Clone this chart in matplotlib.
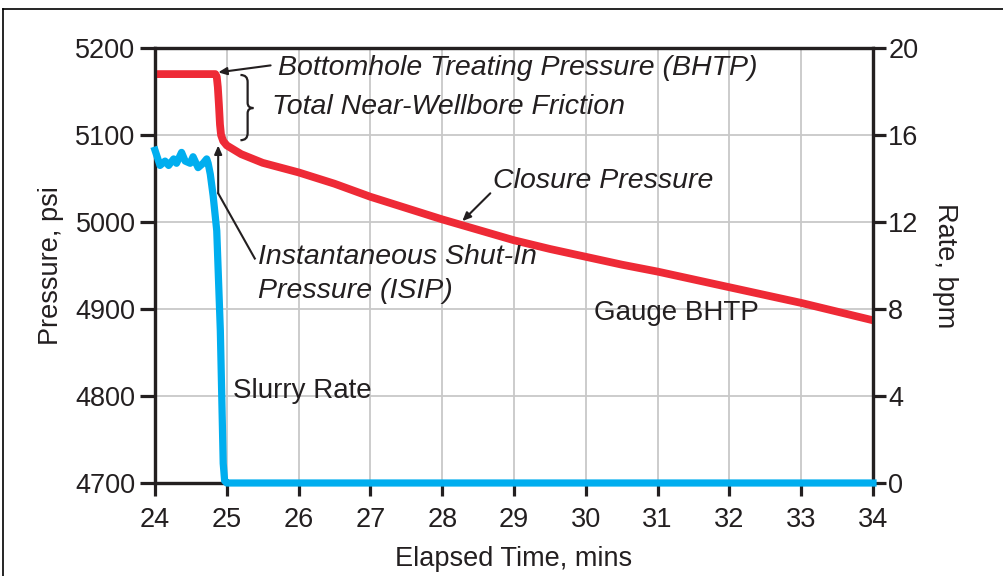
import matplotlib
matplotlib.use("Agg")
import matplotlib.pyplot as plt
from matplotlib.path import Path
from matplotlib.patches import PathPatch
from matplotlib.lines import Line2D

plt.rcParams['font.family'] = ['Liberation Sans', 'DejaVu Sans']

# ---- data ----
bhtp_time = [24.0, 24.84, 24.86, 24.875, 24.89, 24.905, 24.92, 24.95, 25.0, 25.2, 25.5,
             26.0, 26.5, 27.0, 27.5, 28.0, 28.5, 29.0, 29.5, 30.0, 30.5, 31.0, 31.5,
             32.0, 32.5, 33.0, 33.5, 34.0]
bhtp_psi = [5170, 5170, 5167, 5155, 5135, 5112, 5100, 5093, 5088, 5078, 5068,
            5057, 5044, 5029, 5016, 5003, 4991, 4979, 4969, 4960, 4951, 4943, 4934,
            4925, 4916, 4907, 4897, 4887]

rate_time = [24.0, 24.07, 24.14, 24.19, 24.26, 24.30, 24.37, 24.42, 24.49, 24.53,
             24.60, 24.67, 24.72, 24.74, 24.77, 24.81, 24.86, 24.91, 24.95, 24.97,
             25.0, 34.0]
rate_bpm = [15.3, 14.6, 14.8, 14.6, 14.9, 14.7, 15.2, 14.8, 14.7, 15.0,
            14.5, 14.7, 14.9, 14.7, 14.2, 13.2, 11.6, 7.0, 0.9, 0.1,
            0.0, 0.0]

x_ticks = [24, 25, 26, 27, 28, 29, 30, 31, 32, 33, 34]
p_ticks = [4700, 4800, 4900, 5000, 5100, 5200]
r_ticks = [0, 4, 8, 12, 16, 20]

TXT = '#231f20'
RED = '#ee2a36'
BLUE = '#00aeef'

fig = plt.figure(figsize=(10.04, 5.76), dpi=100)
ax = fig.add_axes([155/1004, 1-483/576, (873-155)/1004, (483-48)/576])
ax2 = ax.twinx()

ax.set_xlim(24, 34)
ax.set_ylim(4700, 5200)
ax2.set_ylim(0, 20)

ax.set_xticks(x_ticks)
ax.set_yticks(p_ticks)
ax2.set_yticks(r_ticks)

ax.grid(True, color='#c8c8c8', linewidth=1.3)
ax.set_axisbelow(True)

for a in (ax, ax2):
    for s in a.spines.values():
        s.set_linewidth(2.3)
        s.set_color(TXT)

ax.tick_params(axis='y', direction='out', length=11, width=2.3, pad=3,
               labelsize=19.5, colors=TXT)
ax.tick_params(axis='x', direction='out', length=9, width=2.3, pad=8,
               labelsize=19.5, colors=TXT)
ax2.tick_params(axis='y', direction='out', length=9, width=2.3, pad=2,
                labelsize=19.5, colors=TXT)

ax.plot(bhtp_time, bhtp_psi, color=RED, linewidth=5.6, solid_capstyle='butt',
        solid_joinstyle='round', zorder=3)
ax2.plot(rate_time, rate_bpm, color=BLUE, linewidth=5.2, clip_on=False,
         solid_joinstyle='round', zorder=3)

ax.set_ylabel('Pressure, psi', fontsize=19.5, color=TXT, labelpad=8)
ax2.set_ylabel('Rate, bpm', fontsize=19.5, color=TXT, rotation=270, labelpad=28)
ax.set_xlabel('Elapsed Time, mins', fontsize=19.5, color=TXT, labelpad=10)

# annotations
ann_kw = dict(fontsize=20.5, style='italic', color=TXT, va='center', ha='left', zorder=5)
ax.text(25.71, 5177, 'Bottomhole Treating Pressure (BHTP)', **ann_kw)
ax.text(25.63, 5132, 'Total Near-Wellbore Friction', **ann_kw)
ax.text(28.71, 5047, 'Closure Pressure', **ann_kw)
ax.text(25.43, 4960, 'Instantaneous Shut-In', **ann_kw)
ax.text(25.43, 4921, 'Pressure (ISIP)', **ann_kw)
ax.text(30.11, 4895, 'Gauge BHTP', fontsize=20, color=TXT, va='center', ha='left')
ax.text(25.09, 4806, 'Slurry Rate', fontsize=20, color=TXT, va='center', ha='left')

arrow_kw = dict(arrowstyle='-|>,head_length=0.5,head_width=0.22', color=TXT, lw=1.5,
                shrinkA=0, shrinkB=0)
ax.annotate('', xy=(24.88, 5172), xytext=(25.61, 5180), arrowprops=arrow_kw, zorder=5)
ax.annotate('', xy=(28.28, 5001), xytext=(28.67, 5033), arrowprops=arrow_kw, zorder=5)
ax.plot([25.39, 24.88], [4958, 5033], color=TXT, lw=1.5, zorder=5)
ax.annotate('', xy=(24.88, 5088), xytext=(24.88, 5033), arrowprops=arrow_kw, zorder=5)

# curly brace
bx0, bx1, btip = 25.19, 25.29, 25.37
yt, yb, ym = 5169, 5094, 5131
codes = [Path.MOVETO, Path.CURVE3, Path.CURVE3, Path.LINETO,
         Path.CURVE3, Path.CURVE3, Path.LINETO,
         Path.CURVE3, Path.CURVE3, Path.LINETO,
         Path.CURVE3, Path.CURVE3, Path.LINETO]
verts = [(bx0, yt), (bx1, yt), (bx1, yt - 8), (bx1, ym + 6),
         (bx1, ym), (btip, ym), (btip, ym),
         (bx1, ym), (bx1, ym - 6), (bx1, yb + 8),
         (bx1, yb), (bx0, yb), (bx0, yb)]
ax.add_patch(PathPatch(Path(verts, codes), facecolor='none', edgecolor=TXT,
                       lw=1.6, zorder=5))

# figure border (top and left)
fig.add_artist(Line2D([3/1004, 3/1004], [1-9/576, 0], transform=fig.transFigure,
                      color='black', lw=1.2))
fig.add_artist(Line2D([3/1004, 1], [1-9/576, 1-9/576], transform=fig.transFigure,
                      color='black', lw=1.2))

fig.savefig('out.png', dpi=100)
